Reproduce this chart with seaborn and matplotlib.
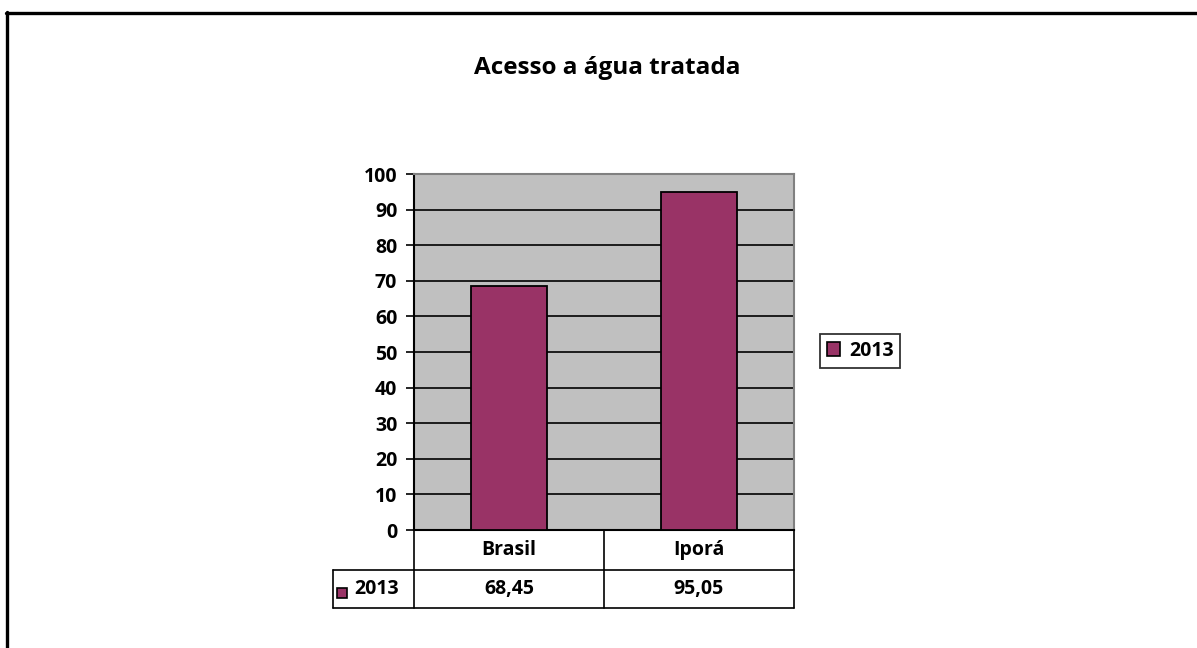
import matplotlib
matplotlib.use("Agg")
import matplotlib.pyplot as plt
import seaborn as sns
import pandas as pd
from matplotlib.lines import Line2D
from matplotlib.patches import Rectangle

# Data
categories = ["Brasil", "Iporá"]
values_2013 = [68.45, 95.05]
series_name = "2013"
title = "Acesso a água tratada"
y_ticks = list(range(0, 101, 10))

bar_color = "#993366"
plot_bg = "#C0C0C0"

sns.set_theme(style="white")
plt.rcParams["font.family"] = ["Open Sans", "DejaVu Sans"]
plt.rcParams["font.weight"] = "bold"
plt.rcParams["text.color"] = "black"
plt.rcParams["ytick.color"] = "black"
plt.rcParams["ytick.labelcolor"] = "black"

FS = 14

W, H = 1197, 648
fig = plt.figure(figsize=(W / 100, H / 100), dpi=100)
fig.patch.set_facecolor("white")

# plot area in pixel coordinates
L, R, T, B = 414, 794, 174, 530


def fx(px):
    return px / W


def fy(py):
    return 1 - py / H


ax = fig.add_axes([fx(L), fy(B), fx(R) - fx(L), fy(T) - fy(B)])
ax.set_facecolor(plot_bg)

df = pd.DataFrame({"categoria": categories, "valor": values_2013})
sns.barplot(data=df, x="categoria", y="valor", color=bar_color,
            edgecolor="black", linewidth=1.3, width=0.4, saturation=1,
            ax=ax, zorder=3)

ax.set_ylim(0, 100)
ax.set_xlim(-0.5, len(categories) - 0.5)
ax.set_yticks(y_ticks)
ax.set_yticklabels([str(t) for t in y_ticks], fontsize=FS, fontweight="bold",
                   color="black")
ax.set_xticks([])
ax.set_xlabel("")
ax.set_ylabel("")
for t in y_ticks[1:]:
    ax.axhline(t, color="black", linewidth=1.2, zorder=1)
ax.tick_params(axis="y", direction="out", length=6, width=1.2, color="black",
               pad=6, left=True)
ax.spines["left"].set_color("black")
ax.spines["left"].set_linewidth(1.5)
ax.spines["bottom"].set_color("black")
ax.spines["bottom"].set_linewidth(1.5)
ax.spines["top"].set_color("#808080")
ax.spines["top"].set_linewidth(1.5)
ax.spines["right"].set_color("#808080")
ax.spines["right"].set_linewidth(1.5)

# data table under the plot
row1_top, row1_bot, row2_bot = B, 570, 608
key_left = 333
n = len(categories)
col_w = (R - L) / n
lw = 1.2


def hline(x0, x1, y):
    fig.add_artist(Line2D([fx(x0), fx(x1)], [fy(y), fy(y)], color="black",
                          linewidth=lw, transform=fig.transFigure))


def vline(x, y0, y1):
    fig.add_artist(Line2D([fx(x), fx(x)], [fy(y0), fy(y1)], color="black",
                          linewidth=lw, transform=fig.transFigure))


hline(key_left, R, row1_bot)
hline(key_left, R, row2_bot)
vline(key_left, row1_bot, row2_bot)
for i in range(n + 1):
    vline(L + i * col_w, row1_top, row2_bot)

for i, (cat, val) in enumerate(zip(categories, values_2013)):
    cx = L + (i + 0.5) * col_w
    fig.text(fx(cx), fy((row1_top + row1_bot) / 2), cat, ha="center",
             va="center", fontsize=FS, fontweight="bold")
    fig.text(fx(cx), fy((row1_bot + row2_bot) / 2),
             f"{val:.2f}".replace(".", ","), ha="center", va="center",
             fontsize=FS, fontweight="bold")

# series key in the table row
fig.add_artist(Rectangle((fx(337), fy(598)), fx(10), fy(0) - fy(10),
                         facecolor=bar_color, edgecolor="black", linewidth=1.2,
                         transform=fig.transFigure))
fig.text(fx(354), fy((row1_bot + row2_bot) / 2), series_name, ha="left",
         va="center", fontsize=FS, fontweight="bold")

# legend
handle = Rectangle((0, 0), 1, 1, facecolor=bar_color, edgecolor="black",
                   linewidth=1.2)
leg = fig.legend([handle], [series_name], loc="center",
                 bbox_to_anchor=(fx(860), fy(351)), frameon=True,
                 fancybox=False, edgecolor="black", handlelength=0.7,
                 handleheight=0.7, handletextpad=0.45, borderpad=0.35,
                 borderaxespad=0, prop={"size": FS, "weight": "bold"})
leg.get_frame().set_linewidth(1.3)

# title
fig.text(fx(607), fy(68), title, ha="center", va="center", fontsize=17.5,
         fontweight="bold", color="black")

# outer frame
fig.add_artist(Line2D([fx(6), fx(W)], [fy(13), fy(13)], color="black",
                      linewidth=2.4, transform=fig.transFigure))
fig.add_artist(Line2D([fx(7), fx(7)], [fy(12), fy(H)], color="black",
                      linewidth=2.4, transform=fig.transFigure))

fig.savefig("out.png", dpi=100, facecolor="white")
